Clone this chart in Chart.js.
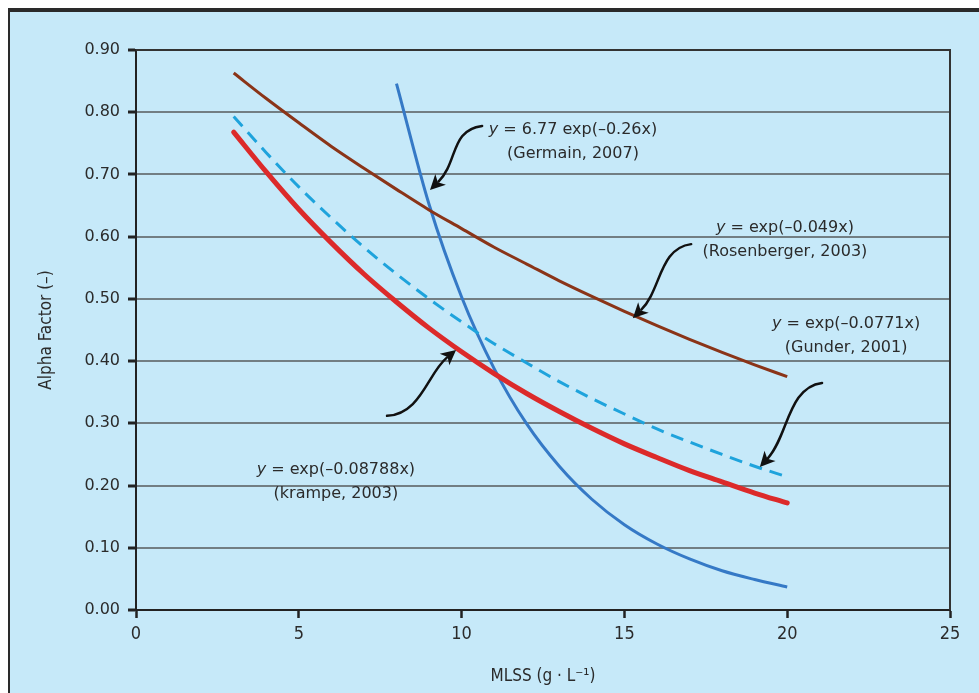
<!DOCTYPE html>
<html><head><meta charset="utf-8">
<script src="https://cdn.jsdelivr.net/npm/chart.js@4.4.1/dist/chart.umd.min.js"></script>
<style>html,body{margin:0;padding:0;background:#fff;overflow:hidden;}canvas{display:block;}</style>
</head><body>
<canvas id="c" width="979" height="693"></canvas>
<script>
// ---- data ----
const mlss = [3,4,5,6,7,8,9,10,11,12,13,14,15,16,17,18,19,20];
const rosenberger = [0.863,0.822,0.783,0.745,0.710,0.676,0.643,0.613,0.583,0.556,0.529,0.504,0.480,0.457,0.435,0.414,0.394,0.375];
const gunder = [0.793,0.735,0.680,0.630,0.583,0.540,0.500,0.463,0.428,0.397,0.367,0.340,0.315,0.291,0.270,0.250,0.231,0.214];
const krampe = [0.768,0.704,0.644,0.590,0.540,0.495,0.453,0.415,0.380,0.348,0.319,0.292,0.267,0.245,0.224,0.206,0.188,0.172];
const mlssGermain = [8,9,10,11,12,13,14,15,16,17,18,19,20];
const germain = [0.846,0.652,0.503,0.388,0.299,0.231,0.178,0.137,0.106,0.082,0.063,0.049,0.037];
const xTicks = [0,5,10,15,20,25];
const yTicks = [0,0.1,0.2,0.3,0.4,0.5,0.6,0.7,0.8,0.9];

const labelsText = [
  {eq:"exp(\u20130.049x)", src:"(Rosenberger, 2003)", at:[19.93,0.614]},
  {eq:"6.77 exp(\u20130.26x)", src:"(Germain, 2007)", at:[13.42,0.772]},
  {eq:"exp(\u20130.0771x)", src:"(Gunder, 2001)", at:[21.81,0.460]},
  {eq:"exp(\u20130.08788x)", src:"(krampe, 2003)", at:[6.14,0.225]}
];
// arrows: from (data) -> tip (data), control offsets in px
const arrows = [
  {from:[10.63,0.778], to:[9.03,0.675], c1:[-32,4], c2:[24,-24]},
  {from:[17.05,0.588], to:[15.26,0.469], c1:[-32,4], c2:[24,-24]},
  {from:[21.07,0.365], to:[19.16,0.230], c1:[-34,4], c2:[24,-26]},
  {from:[7.71,0.312], to:[9.83,0.418], c1:[34,-2], c2:[-24,20]}
];

const toXY = (xs, ys) => xs.map((x,i)=>({x:x, y:ys[i]}));
const BG = '#c6e9f9';
const TXT = '#2b2b2b';

const framePlugin = {
  id:'frame',
  beforeDraw(chart){
    const ctx = chart.ctx;
    ctx.save();
    ctx.fillStyle = '#ffffff';
    ctx.fillRect(0,0,chart.width,chart.height);
    ctx.fillStyle = BG;
    ctx.fillRect(9,9,chart.width-9,chart.height-9);
    ctx.fillStyle = '#2a2a2a';
    ctx.fillRect(8,8,chart.width-8,4);
    ctx.fillRect(8,8,2,chart.height-8);
    ctx.restore();
  },
  afterDatasetsDraw(chart){
    const ctx = chart.ctx, xs = chart.scales.x, ys = chart.scales.y;
    const a = chart.chartArea;
    ctx.save();
    ctx.strokeStyle = '#333';
    ctx.lineWidth = 2;
    ctx.beginPath();
    ctx.moveTo(a.left, a.top); ctx.lineTo(a.right, a.top); ctx.lineTo(a.right, a.bottom);
    ctx.stroke();
    // arrows
    ctx.strokeStyle = '#111'; ctx.fillStyle = '#111'; ctx.lineWidth = 2.5; ctx.lineCap='round';
    arrows.forEach(ar=>{
      const p0 = [xs.getPixelForValue(ar.from[0]), ys.getPixelForValue(ar.from[1])];
      const p3 = [xs.getPixelForValue(ar.to[0]), ys.getPixelForValue(ar.to[1])];
      const c1 = [p0[0]+ar.c1[0], p0[1]+ar.c1[1]];
      const c2 = [p3[0]+ar.c2[0], p3[1]+ar.c2[1]];
      const dx = p3[0]-c2[0], dy = p3[1]-c2[1];
      const L = Math.hypot(dx,dy), ux = dx/L, uy = dy/L;
      const hl = 15, hw = 7.5;
      const base = [p3[0]-ux*hl, p3[1]-uy*hl];
      ctx.beginPath();
      ctx.moveTo(p0[0],p0[1]);
      ctx.bezierCurveTo(c1[0],c1[1],c2[0]-ux*6,c2[1]-uy*6,base[0]+ux*3,base[1]+uy*3);
      ctx.stroke();
      ctx.beginPath();
      ctx.moveTo(p3[0],p3[1]);
      ctx.lineTo(base[0]-uy*hw, base[1]+ux*hw);
      ctx.lineTo(base[0]+ux*4, base[1]+uy*4);
      ctx.lineTo(base[0]+uy*hw, base[1]-ux*hw);
      ctx.closePath();
      ctx.fill();
    });
    // labels
    ctx.fillStyle = TXT; ctx.textBaseline = 'middle';
    const fN = '16px "DejaVu Sans", sans-serif', fI = 'italic 16px "DejaVu Sans", sans-serif';
    labelsText.forEach(l=>{
      const cx = xs.getPixelForValue(l.at[0]), cy = ys.getPixelForValue(l.at[1]);
      ctx.font = fI; const wy = ctx.measureText('y').width;
      ctx.font = fN; const wr = ctx.measureText(' = '+l.eq).width;
      let x0 = cx - (wy+wr)/2;
      ctx.textAlign = 'left';
      ctx.font = fI; ctx.fillText('y', x0, cy);
      ctx.font = fN; ctx.fillText(' = '+l.eq, x0+wy, cy);
      ctx.textAlign = 'center';
      ctx.fillText(l.src, cx, cy+24);
    });
    ctx.restore();
  }
};

new Chart(document.getElementById('c'), {
  type:'line',
  data:{
    datasets:[
      {label:'Rosenberger', data:toXY(mlss,rosenberger), borderColor:'#8a3418', borderWidth:3, pointRadius:0, cubicInterpolationMode:'monotone', fill:false},
      {label:'Gunder', data:toXY(mlss,gunder), borderColor:'#1ea3dc', borderWidth:3, borderDash:[13,8], pointRadius:0, cubicInterpolationMode:'monotone', fill:false},
      {label:'Krampe', data:toXY(mlss,krampe), borderColor:'#dc2a2a', borderWidth:5, pointRadius:0, cubicInterpolationMode:'monotone', fill:false, borderCapStyle:'round'},
      {label:'Germain', data:toXY(mlssGermain,germain), borderColor:'#3579c6', borderWidth:3, pointRadius:0, cubicInterpolationMode:'monotone', fill:false}
    ]
  },
  options:{
    responsive:false, animation:false, devicePixelRatio:1,
    layout:{padding:{left:0, top:50, right:29, bottom:0}},
    plugins:{legend:{display:false}, tooltip:{enabled:false}},
    scales:{
      x:{
        type:'linear', min:0, max:25,
        afterBuildTicks(s){ s.ticks = xTicks.map(v=>({value:v})); },
        afterFit(s){ s.height = 83; },
        ticks:{color:TXT, padding:6, font:{family:'"Liberation Sans Narrow","DejaVu Sans Condensed",sans-serif', size:18}},
        grid:{drawOnChartArea:false, drawTicks:true, tickLength:8, tickColor:'#222', tickWidth:2.5},
        border:{display:true, color:'#222', width:2},
        title:{display:true, text:'MLSS (g \u00b7 L\u207b\u00b9)', color:TXT, padding:{top:0,bottom:6}, font:{family:'"Liberation Sans Narrow","DejaVu Sans Condensed",sans-serif', size:17}}
      },
      y:{
        type:'linear', min:0, max:0.9,
        afterBuildTicks(s){ s.ticks = yTicks.map(v=>({value:v})); },
        afterFit(s){ s.width = 136; },
        ticks:{color:TXT, padding:8, callback:v=>v.toFixed(2), font:{family:'"DejaVu Sans",sans-serif', size:16}},
        grid:{color:'#727e83', lineWidth:2, drawTicks:true, tickLength:8, tickColor:'#222', tickWidth:3},
        border:{display:true, color:'#222', width:2},
        title:{display:true, text:'Alpha Factor (\u2013)', color:TXT, padding:{top:36,bottom:0}, font:{family:'"Liberation Sans Narrow","DejaVu Sans Condensed",sans-serif', size:17}}
      }
    }
  },
  plugins:[framePlugin]
});
</script>
</body></html>
